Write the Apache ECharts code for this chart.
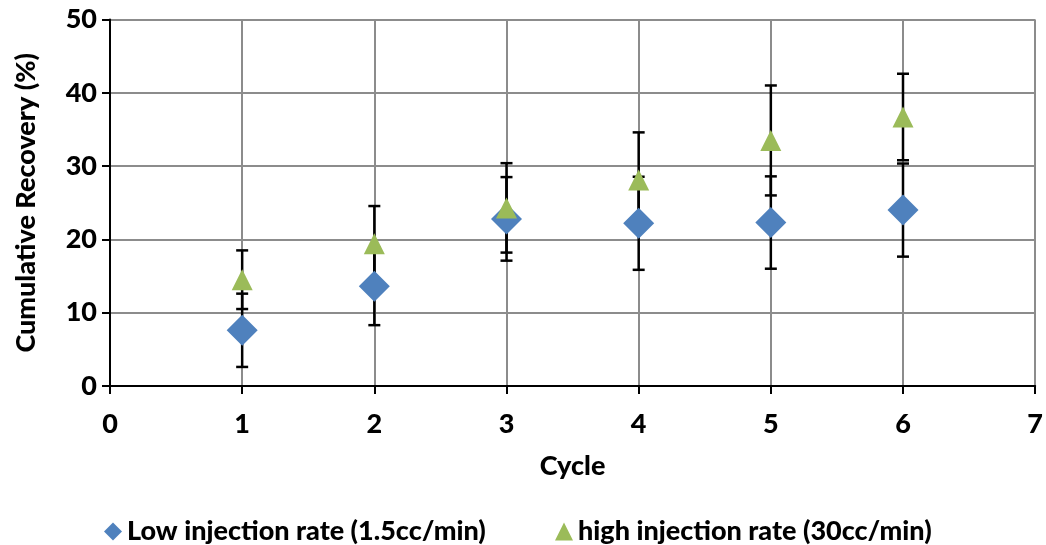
<!DOCTYPE html>
<html><head><meta charset="utf-8">
<script src="https://cdn.jsdelivr.net/npm/echarts@6/dist/echarts.min.js"></script>
<style>html,body{margin:0;padding:0;background:#fff}#c{width:1046px;height:545px}</style>
</head><body><div id="c"></div>
<script>
const cycles = [1, 2, 3, 4, 5, 6];
const lowRate = [7.6, 13.6, 22.8, 22.2, 22.3, 24.0];
const lowErr = [5.0, 5.3, 5.7, 6.35, 6.3, 6.35];
const highRate = [14.5, 19.4, 24.3, 28.1, 33.5, 36.7];
const highErr = [4.0, 5.15, 6.1, 6.5, 7.5, 5.9];
const xTicks = [0, 1, 2, 3, 4, 5, 6, 7];
const yTicks = [0, 10, 20, 30, 40, 50];
const lowName = 'Low injection rate (1.5cc/min)';
const highName = 'high injection rate (30cc/min)';

const FONT = 'Lato';
const chart = echarts.init(document.getElementById('c'));

function errData(vals, errs) {
  return cycles.map((c, i) => [c, vals[i] - errs[i], vals[i] + errs[i]]);
}
function errRender(params, api) {
  const x = api.value(0);
  const lo = api.coord([x, api.value(1)]);
  const hi = api.coord([x, api.value(2)]);
  const w = 6;
  const st = { stroke: '#000', lineWidth: 2.5 };
  return {
    type: 'group',
    children: [
      { type: 'line', shape: { x1: lo[0], y1: lo[1], x2: hi[0], y2: hi[1] }, style: st },
      { type: 'line', shape: { x1: lo[0] - w, y1: lo[1], x2: lo[0] + w, y2: lo[1] }, style: st },
      { type: 'line', shape: { x1: hi[0] - w, y1: hi[1], x2: hi[0] + w, y2: hi[1] }, style: st }
    ]
  };
}

const labelStyle = { fontFamily: FONT, fontWeight: 900, fontSize: 27, color: '#000' };

chart.setOption({
  animation: false,
  backgroundColor: '#fff',
  grid: { left: 110, right: 9, top: 19.5, bottom: 159, containLabel: false },
  legend: [
    { left: 99, top: 513, itemWidth: 18, itemHeight: 18, itemGap: 10,
      data: [{ name: lowName, icon: 'diamond' }], textStyle: labelStyle },
    { left: 550, top: 513, itemWidth: 18, itemHeight: 18, itemGap: 10,
      data: [{ name: highName, icon: 'triangle' }], textStyle: labelStyle }
  ],
  xAxis: {
    type: 'value', min: 0, max: 7, interval: 1,
    name: 'Cycle', nameLocation: 'middle', nameGap: 67,
    nameTextStyle: labelStyle,
    axisLine: { show: true, onZero: false, lineStyle: { color: '#000', width: 2 } },
    axisTick: { show: true, length: 8, lineStyle: { color: '#000', width: 2 } },
    axisLabel: Object.assign({ margin: 25, formatter: v => xTicks.includes(v) ? String(v) : '' }, labelStyle),
    splitLine: { show: true, lineStyle: { color: '#8c8c8c', width: 2 } }
  },
  yAxis: {
    type: 'value', min: 0, max: 50, interval: 10,
    name: 'Cumulative Recovery (%)', nameLocation: 'middle', nameGap: 70,
    nameTextStyle: labelStyle,
    axisLine: { show: true, onZero: false, lineStyle: { color: '#000', width: 2 } },
    axisTick: { show: true, length: 8, lineStyle: { color: '#000', width: 2 } },
    axisLabel: Object.assign({ margin: 13, formatter: v => yTicks.includes(v) ? String(v) : '' }, labelStyle),
    splitLine: { show: true, lineStyle: { color: '#8c8c8c', width: 2 } }
  },
  series: [
    { type: 'custom', name: 'lowErr', renderItem: errRender, data: errData(lowRate, lowErr), z: 1, silent: true,
      encode: { x: 0, y: [1, 2] } },
    { type: 'custom', name: 'highErr', renderItem: errRender, data: errData(highRate, highErr), z: 1, silent: true,
      encode: { x: 0, y: [1, 2] } },
    { type: 'scatter', name: lowName, symbol: 'diamond', symbolSize: 31, z: 2,
      itemStyle: { color: '#4F81BD', opacity: 1 }, data: cycles.map((c, i) => [c, lowRate[i]]) },
    { type: 'scatter', name: highName, symbol: 'triangle', symbolSize: 21, z: 3,
      itemStyle: { color: '#9BBB59', opacity: 1 }, data: cycles.map((c, i) => [c, highRate[i]]) }
  ]
});
</script></body></html>
